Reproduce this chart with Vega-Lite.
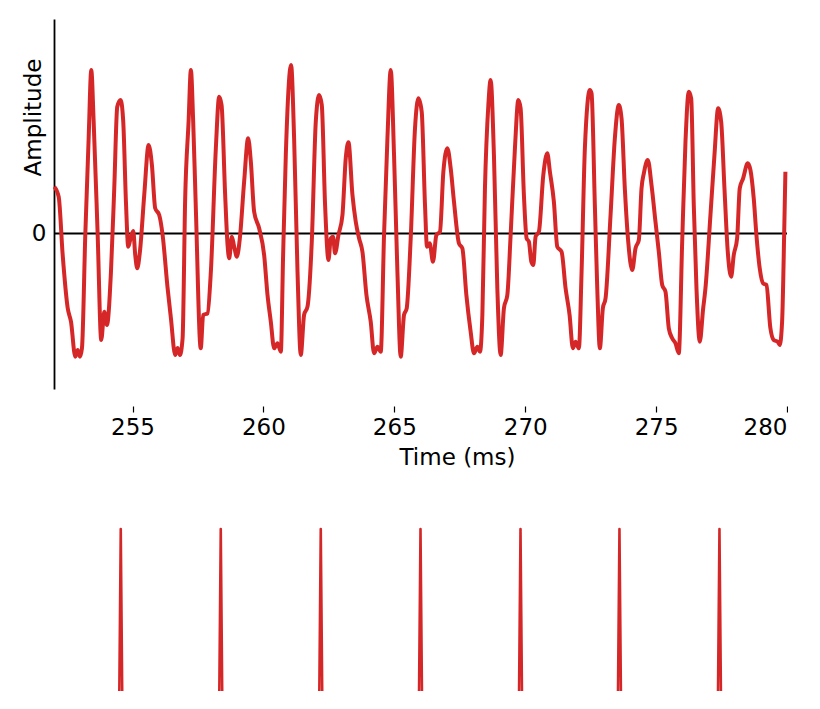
{
  "$schema": "https://vega.github.io/schema/vega-lite/v6.json",
  "background": "white",
  "padding": {"left": 22, "top": 19, "right": 0, "bottom": 0},
  "spacing": 58,
  "config": {
    "view": {"stroke": null},
    "font": "DejaVu Sans",
    "axis": {"grid": false, "labelFont": "DejaVu Sans", "titleFont": "DejaVu Sans", "labelColor": "black", "titleColor": "black", "titleFontWeight": "normal", "labelFontSize": 23, "titleFontSize": 23}
  },
  "datasets": {
    "wave": [
      {"t":252.011,"a":0.468},{"t":252.179,"a":0.368},{"t":252.332,"a":-0.215},{"t":252.523,"a":-0.745},{"t":252.649,"a":-0.882},{"t":252.813,"a":-1.232},{"t":252.905,"a":-1.165},{"t":252.992,"a":-1.232},{"t":253.069,"a":-1.145},{"t":253.195,"a":-0.015},{"t":253.324,"a":0.955},{"t":253.424,"a":1.635},{"t":253.515,"a":1.118},{"t":253.668,"a":-0.015},{"t":253.805,"a":-1.065},{"t":253.92,"a":-0.782},{"t":254.023,"a":-0.915},{"t":254.176,"a":-0.382},{"t":254.302,"a":0.455},{"t":254.416,"a":1.268},{"t":254.546,"a":1.335},{"t":254.645,"a":1.118},{"t":254.748,"a":0.318},{"t":254.836,"a":-0.132},{"t":254.912,"a":-0.065},{"t":255.027,"a":0.025},{"t":255.103,"a":-0.215},{"t":255.179,"a":-0.348},{"t":255.282,"a":-0.182},{"t":255.447,"a":0.385},{"t":255.615,"a":0.885},{"t":255.74,"a":0.685},{"t":255.866,"a":0.252},{"t":256.019,"a":0.185},{"t":256.149,"a":-0.015},{"t":256.34,"a":-0.548},{"t":256.466,"a":-0.848},{"t":256.63,"a":-1.215},{"t":256.721,"a":-1.145},{"t":256.809,"a":-1.215},{"t":256.912,"a":-1.048},{"t":257.011,"a":0.352},{"t":257.141,"a":1.118},{"t":257.229,"a":1.635},{"t":257.317,"a":1.118},{"t":257.42,"a":0.235},{"t":257.605,"a":-1.148},{"t":257.698,"a":-0.815},{"t":257.866,"a":-0.798},{"t":257.992,"a":-0.382},{"t":258.183,"a":0.855},{"t":258.309,"a":1.368},{"t":258.401,"a":1.285},{"t":258.538,"a":0.385},{"t":258.63,"a":-0.115},{"t":258.691,"a":-0.248},{"t":258.794,"a":-0.032},{"t":258.882,"a":-0.132},{"t":258.985,"a":-0.232},{"t":259.099,"a":-0.048},{"t":259.263,"a":0.518},{"t":259.416,"a":0.952},{"t":259.519,"a":0.718},{"t":259.645,"a":0.218},{"t":259.836,"a":0.052},{"t":260.027,"a":-0.215},{"t":260.156,"a":-0.615},{"t":260.282,"a":-0.882},{"t":260.408,"a":-1.148},{"t":260.538,"a":-1.098},{"t":260.664,"a":-1.182},{"t":260.752,"a":-0.215},{"t":260.855,"a":0.785},{"t":261.057,"a":1.685},{"t":261.172,"a":0.952},{"t":261.302,"a":-0.382},{"t":261.427,"a":-1.215},{"t":261.553,"a":-0.815},{"t":261.683,"a":-0.732},{"t":261.847,"a":-0.082},{"t":262.0,"a":1.118},{"t":262.126,"a":1.385},{"t":262.229,"a":1.285},{"t":262.355,"a":0.285},{"t":262.485,"a":-0.265},{"t":262.573,"a":-0.048},{"t":262.66,"a":-0.032},{"t":262.737,"a":-0.198},{"t":262.866,"a":-0.015},{"t":263.019,"a":0.185},{"t":263.145,"a":0.752},{"t":263.248,"a":0.912},{"t":263.401,"a":0.385},{"t":263.527,"a":0.118},{"t":263.653,"a":-0.048},{"t":263.782,"a":-0.182},{"t":263.935,"a":-0.615},{"t":264.099,"a":-0.882},{"t":264.225,"a":-1.198},{"t":264.355,"a":-1.132},{"t":264.481,"a":-1.182},{"t":264.607,"a":-0.015},{"t":264.737,"a":0.952},{"t":264.863,"a":1.635},{"t":264.989,"a":0.785},{"t":265.118,"a":-0.382},{"t":265.244,"a":-1.232},{"t":265.37,"a":-0.815},{"t":265.473,"a":-0.748},{"t":265.626,"a":-0.048},{"t":265.79,"a":1.052},{"t":265.92,"a":1.352},{"t":266.046,"a":1.218},{"t":266.172,"a":0.285},{"t":266.248,"a":-0.132},{"t":266.351,"a":-0.098},{"t":266.477,"a":-0.282},{"t":266.607,"a":-0.015},{"t":266.744,"a":0.018},{"t":266.874,"a":0.618},{"t":267.027,"a":0.852},{"t":267.153,"a":0.652},{"t":267.279,"a":0.318},{"t":267.469,"a":-0.098},{"t":267.599,"a":-0.148},{"t":267.752,"a":-0.615},{"t":267.916,"a":-0.982},{"t":268.042,"a":-1.198},{"t":268.172,"a":-1.132},{"t":268.271,"a":-1.182},{"t":268.363,"a":-0.815},{"t":268.462,"a":0.452},{"t":268.592,"a":1.285},{"t":268.679,"a":1.535},{"t":268.805,"a":0.785},{"t":268.935,"a":-0.548},{"t":269.061,"a":-1.215},{"t":269.187,"a":-0.748},{"t":269.317,"a":-0.615},{"t":269.443,"a":-0.015},{"t":269.607,"a":0.852},{"t":269.737,"a":1.335},{"t":269.824,"a":1.252},{"t":269.95,"a":0.385},{"t":270.053,"a":-0.048},{"t":270.141,"a":-0.082},{"t":270.233,"a":-0.282},{"t":270.309,"a":-0.315},{"t":270.397,"a":-0.032},{"t":270.523,"a":0.018},{"t":270.691,"a":0.585},{"t":270.844,"a":0.802},{"t":270.943,"a":0.618},{"t":271.095,"a":0.318},{"t":271.225,"a":-0.132},{"t":271.389,"a":-0.182},{"t":271.542,"a":-0.548},{"t":271.695,"a":-0.815},{"t":271.821,"a":-1.148},{"t":271.924,"a":-1.082},{"t":272.05,"a":-1.148},{"t":272.153,"a":-0.382},{"t":272.279,"a":0.852},{"t":272.469,"a":1.435},{"t":272.534,"a":1.402},{"t":272.66,"a":0.285},{"t":272.752,"a":-0.548},{"t":272.851,"a":-1.148},{"t":272.966,"a":-0.748},{"t":273.069,"a":-0.648},{"t":273.26,"a":0.185},{"t":273.424,"a":0.952},{"t":273.576,"a":1.285},{"t":273.679,"a":1.152},{"t":273.805,"a":0.452},{"t":273.935,"a":-0.082},{"t":274.088,"a":-0.365},{"t":274.214,"a":-0.148},{"t":274.34,"a":-0.065},{"t":274.443,"a":0.452},{"t":274.531,"a":0.602},{"t":274.683,"a":0.735},{"t":274.824,"a":0.485},{"t":274.977,"a":0.115},{"t":275.103,"a":-0.182},{"t":275.233,"a":-0.515},{"t":275.359,"a":-0.582},{"t":275.485,"a":-0.948},{"t":275.615,"a":-1.048},{"t":275.74,"a":-1.098},{"t":275.866,"a":-1.198},{"t":275.996,"a":-0.082},{"t":276.122,"a":0.918},{"t":276.248,"a":1.418},{"t":276.34,"a":1.352},{"t":276.439,"a":0.285},{"t":276.542,"a":-0.548},{"t":276.668,"a":-1.082},{"t":276.798,"a":-0.748},{"t":276.885,"a":-0.548},{"t":277.076,"a":0.185},{"t":277.229,"a":0.785},{"t":277.37,"a":1.252},{"t":277.485,"a":1.118},{"t":277.611,"a":0.452},{"t":277.737,"a":-0.182},{"t":277.866,"a":-0.432},{"t":277.966,"a":-0.215},{"t":278.095,"a":-0.048},{"t":278.195,"a":0.452},{"t":278.324,"a":0.552},{"t":278.5,"a":0.702},{"t":278.603,"a":0.635},{"t":278.729,"a":0.352},{"t":278.832,"a":-0.015},{"t":278.958,"a":-0.348},{"t":279.088,"a":-0.498},{"t":279.214,"a":-0.515},{"t":279.366,"a":-0.948},{"t":279.492,"a":-1.065},{"t":279.645,"a":-1.082},{"t":279.721,"a":-1.115},{"t":279.813,"a":-0.882},{"t":279.901,"a":0.118},{"t":279.939,"a":0.618}
    ],
    "spikes": [
      {"k":1,"t":254.495,"v":0},{"k":1,"t":254.55,"v":1},{"k":1,"t":254.605,"v":0},
      {"k":2,"t":258.315,"v":0},{"k":2,"t":258.37,"v":1},{"k":2,"t":258.425,"v":0},
      {"k":3,"t":262.135,"v":0},{"k":3,"t":262.19,"v":1},{"k":3,"t":262.245,"v":0},
      {"k":4,"t":265.945,"v":0},{"k":4,"t":266.0,"v":1},{"k":4,"t":266.055,"v":0},
      {"k":5,"t":269.765,"v":0},{"k":5,"t":269.82,"v":1},{"k":5,"t":269.875,"v":0},
      {"k":6,"t":273.545,"v":0},{"k":6,"t":273.6,"v":1},{"k":6,"t":273.655,"v":0},
      {"k":7,"t":277.365,"v":0},{"k":7,"t":277.42,"v":1},{"k":7,"t":277.475,"v":0}
    ]
  },
  "vconcat": [
    {
      "width": 733,
      "height": 370,
      "layer": [
        {
          "data": {"values": [{"a": 0}]},
          "mark": {"type": "rule", "color": "black", "strokeWidth": 2},
          "encoding": {"y": {"field": "a", "type": "quantitative"}}
        },
        {
          "data": {"name": "wave"},
          "mark": {"type": "line", "color": "#d62728", "strokeWidth": 4, "interpolate": "monotone", "strokeJoin": "round"},
          "encoding": {
            "x": {
              "field": "t", "type": "quantitative",
              "scale": {"domain": [252, 280], "nice": false, "zero": false},
              "axis": {"title": "Time (ms)", "values": [255, 260, 265, 270, 275, 280], "domain": false, "offset": 17, "tickSize": 6, "tickColor": "black", "tickWidth": 1.2, "labelPadding": 4, "titlePadding": 7, "titleX": 403, "titleAlign": "center"}
            },
            "y": {
              "field": "a", "type": "quantitative",
              "scale": {"domain": [-1.555, 2.145], "nice": false, "zero": false},
              "axis": {"title": "Amplitude", "values": [0], "format": "d", "ticks": false, "labelPadding": 8, "domainColor": "black", "domainWidth": 1.8, "titleX": -20.5, "titleY": 98, "titleAngle": -90, "titleAlign": "center", "titleBaseline": "middle"}
            }
          }
        }
      ]
    },
    {
      "width": 733,
      "height": 162,
      "data": {"name": "spikes"},
      "mark": {"type": "line", "color": "#d62728", "strokeWidth": 2.6, "strokeJoin": "round"},
      "encoding": {
        "x": {"field": "t", "type": "quantitative", "scale": {"domain": [252, 280], "nice": false, "zero": false}, "axis": null},
        "y": {"field": "v", "type": "quantitative", "scale": {"domain": [0, 1], "nice": false}, "axis": null},
        "detail": {"field": "k", "type": "nominal"}
      }
    }
  ]
}
